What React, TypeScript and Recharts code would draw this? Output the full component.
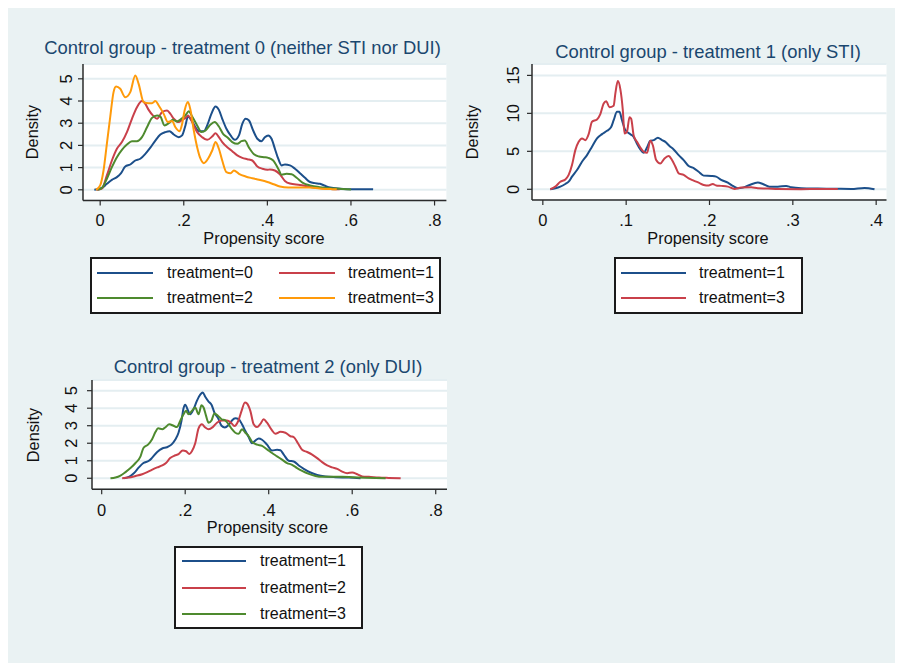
import React from 'react';
import { LineChart, Line, XAxis, YAxis, CartesianGrid } from 'recharts';

type Pt = [number, number];

const FONT = '"Liberation Sans", Arial, Helvetica, sans-serif';
const BG = '#eaf2f3';
const GRID = '#e4eef1';
const AXIS = '#2b2b2b';
const TITLE = '#1a476f';
const BLUE = '#1c4f8a';
const RED = '#c9404a';
const GREEN = '#4e8a2e';
const ORANGE = '#ff9a0a';

// panel 1: control group = treatment 0
const p1Treat0: Pt[] = [
  [-0.014, 0], [0.004, 0.08], [0.016, 0.27], [0.028, 0.45], [0.04, 0.57], [0.05, 0.75], [0.06, 1.05],
  [0.072, 1.14], [0.084, 1.32], [0.096, 1.4], [0.108, 1.62], [0.12, 1.9], [0.132, 2.22], [0.144, 2.49],
  [0.156, 2.6], [0.166, 2.64], [0.176, 2.49], [0.188, 2.37], [0.196, 2.45], [0.204, 2.9], [0.21, 3.3],
  [0.218, 3.15], [0.228, 2.82], [0.236, 2.64], [0.248, 2.64], [0.256, 2.9], [0.266, 3.42], [0.276, 3.75],
  [0.284, 3.6], [0.292, 3.2], [0.302, 2.75], [0.312, 2.45], [0.322, 2.25], [0.332, 2.45], [0.34, 2.97],
  [0.348, 3.2], [0.356, 3.12], [0.366, 2.67], [0.376, 2.3], [0.386, 2.19], [0.394, 2.37], [0.402, 2.45],
  [0.41, 2.3], [0.418, 1.85], [0.426, 1.4], [0.434, 1.1], [0.442, 1.14], [0.454, 1.1], [0.466, 0.95],
  [0.478, 0.75], [0.49, 0.54], [0.502, 0.35], [0.514, 0.3], [0.526, 0.27], [0.538, 0.18], [0.55, 0.1],
  [0.574, 0.05], [0.605, 0.02], [0.653, 0.02],
];
const p1Treat1: Pt[] = [
  [-0.008, 0], [0.004, 0.05], [0.016, 0.65], [0.028, 1.32], [0.04, 1.85], [0.052, 2.15], [0.064, 2.6],
  [0.076, 3.2], [0.088, 3.72], [0.1, 4.0], [0.108, 3.87], [0.116, 3.6], [0.126, 3.35], [0.136, 3.2],
  [0.148, 3.5], [0.16, 3.57], [0.168, 3.42], [0.176, 3.2], [0.188, 3.05], [0.196, 3.15], [0.204, 3.24],
  [0.21, 3.35], [0.22, 3.05], [0.232, 2.6], [0.244, 2.37], [0.256, 2.25], [0.268, 2.4], [0.276, 2.55],
  [0.284, 2.37], [0.292, 2.15], [0.304, 1.92], [0.316, 1.74], [0.328, 1.55], [0.34, 1.44], [0.352, 1.38],
  [0.364, 1.32], [0.376, 1.05], [0.388, 0.95], [0.4, 0.9], [0.406, 0.92], [0.418, 0.87], [0.43, 0.7],
  [0.442, 0.4], [0.454, 0.28], [0.478, 0.22], [0.5, 0.14], [0.525, 0.08], [0.55, 0.04], [0.573, 0.02],
];
const p1Treat2: Pt[] = [
  [-0.006, 0], [0.004, 0.08], [0.016, 0.5], [0.028, 1.02], [0.04, 1.47], [0.052, 1.8], [0.064, 2.04],
  [0.076, 2.19], [0.088, 2.19], [0.1, 2.37], [0.112, 2.82], [0.124, 3.24], [0.136, 3.35], [0.144, 3.3],
  [0.154, 2.9], [0.164, 3.0], [0.174, 3.15], [0.184, 3.08], [0.194, 3.2], [0.204, 3.35], [0.212, 3.54],
  [0.22, 3.3], [0.232, 2.9], [0.242, 2.6], [0.252, 2.67], [0.264, 2.94], [0.274, 3.05], [0.284, 2.85],
  [0.294, 2.52], [0.304, 2.37], [0.316, 2.15], [0.328, 2.07], [0.338, 2.19], [0.346, 2.22], [0.356, 1.9],
  [0.368, 1.6], [0.38, 1.5], [0.392, 1.47], [0.402, 1.44], [0.414, 1.32], [0.426, 0.95], [0.434, 0.68],
  [0.446, 0.72], [0.458, 0.7], [0.47, 0.54], [0.486, 0.3], [0.502, 0.2], [0.525, 0.12], [0.55, 0.07],
  [0.573, 0.05], [0.6, 0.01],
];
const p1Treat3: Pt[] = [
  [-0.01, 0], [0, 0.2], [0.008, 0.87], [0.016, 2.07], [0.024, 3.27], [0.032, 4.4], [0.038, 4.65],
  [0.048, 4.55], [0.06, 4.17], [0.072, 4.4], [0.084, 5.15], [0.092, 4.77], [0.104, 3.95], [0.116, 3.9],
  [0.124, 3.9], [0.132, 4.0], [0.14, 3.8], [0.152, 3.42], [0.162, 3.05], [0.172, 3.1], [0.18, 2.82],
  [0.19, 2.64], [0.196, 2.97], [0.202, 3.57], [0.21, 3.95], [0.216, 3.6], [0.224, 2.67], [0.232, 1.92],
  [0.24, 1.4], [0.248, 1.2], [0.258, 1.4], [0.268, 1.77], [0.276, 2.15], [0.284, 1.85], [0.292, 1.32],
  [0.302, 0.8], [0.312, 0.75], [0.32, 0.87], [0.332, 0.72], [0.348, 0.6], [0.364, 0.52], [0.38, 0.45],
  [0.4, 0.35], [0.415, 0.25], [0.43, 0.15], [0.45, 0.1], [0.5, 0.1], [0.525, 0.06], [0.554, 0.03],
  [0.566, 0.02],
];

// panel 2: control group = treatment 1
const p2Treat1: Pt[] = [
  [0.009, 0], [0.015, 0.13], [0.021, 0.35], [0.027, 0.7], [0.031, 1.0], [0.035, 1.66], [0.041, 2.54],
  [0.047, 3.63], [0.053, 4.5], [0.059, 5.6], [0.065, 6.7], [0.071, 7.26], [0.077, 7.7], [0.082, 8.2],
  [0.085, 9.1], [0.089, 10.2], [0.092, 10.2], [0.095, 9.1], [0.099, 7.8], [0.105, 7.26], [0.109, 6.9],
  [0.113, 6.0], [0.117, 5.25], [0.121, 4.8], [0.125, 5.5], [0.129, 6.4], [0.133, 6.47], [0.138, 6.8],
  [0.143, 6.47], [0.147, 6.25], [0.152, 5.7], [0.157, 5.25], [0.163, 4.5], [0.169, 3.85], [0.175, 3.06],
  [0.181, 2.8], [0.187, 2.3], [0.193, 1.8], [0.202, 1.75], [0.208, 1.67], [0.214, 1.23], [0.222, 0.88],
  [0.228, 0.44], [0.234, 0.13], [0.24, 0.22], [0.248, 0.57], [0.258, 0.88], [0.264, 0.7], [0.272, 0.35],
  [0.282, 0.35], [0.292, 0.44], [0.298, 0.26], [0.31, 0.13], [0.33, 0.09], [0.35, 0.07], [0.37, 0.04],
  [0.386, 0.18], [0.398, 0],
];
const p2Treat3: Pt[] = [
  [0.009, 0], [0.015, 0.35], [0.021, 1.0], [0.027, 1.3], [0.031, 1.9], [0.035, 3.2], [0.039, 5.16],
  [0.043, 6.25], [0.047, 6.7], [0.051, 6.47], [0.055, 7.26], [0.059, 8.9], [0.065, 9.2], [0.069, 9.9],
  [0.073, 11.3], [0.076, 11.6], [0.08, 10.8], [0.085, 11.0], [0.087, 12.6], [0.09, 14.25], [0.093, 13.2],
  [0.096, 10.4], [0.098, 7.35], [0.101, 7.6], [0.104, 9.5], [0.106, 9.3], [0.109, 7.1], [0.113, 6.25],
  [0.117, 5.5], [0.121, 4.94], [0.125, 4.8], [0.129, 6.4], [0.132, 5.8], [0.136, 3.85], [0.141, 3.4],
  [0.146, 4.07], [0.151, 4.37], [0.155, 3.85], [0.159, 3.0], [0.163, 2.1], [0.169, 1.9], [0.175, 1.44],
  [0.181, 1.14], [0.187, 0.87], [0.193, 0.57], [0.199, 0.5], [0.204, 0.7], [0.208, 0.5], [0.214, 0.45],
  [0.222, 0.35], [0.23, 0.05], [0.238, 0.22], [0.25, 0.26], [0.258, 0.13], [0.27, 0.1], [0.282, 0.04],
  [0.31, 0.02], [0.33, 0.04], [0.354, 0.05],
];

// panel 3: control group = treatment 2
const p3Treat1: Pt[] = [
  [0.053, 0], [0.065, 0.08], [0.077, 0.29], [0.089, 0.62], [0.1, 0.87], [0.113, 1.0], [0.12, 1.15],
  [0.133, 1.5], [0.145, 1.7], [0.156, 1.77], [0.167, 1.92], [0.176, 2.2], [0.184, 2.6], [0.191, 3.27],
  [0.196, 4.0], [0.2, 4.2], [0.207, 3.85], [0.212, 3.65], [0.22, 3.94], [0.228, 4.42], [0.236, 4.77],
  [0.242, 4.9], [0.248, 4.65], [0.256, 4.38], [0.263, 4.2], [0.27, 3.75], [0.279, 3.42], [0.287, 3.0],
  [0.295, 2.9], [0.304, 3.04], [0.312, 3.3], [0.32, 3.42], [0.328, 3.37], [0.336, 3.08], [0.344, 2.7],
  [0.352, 2.35], [0.36, 2.0], [0.368, 2.15], [0.376, 2.27], [0.384, 2.2], [0.396, 1.92], [0.408, 1.58],
  [0.42, 1.63], [0.428, 1.6], [0.436, 1.35], [0.448, 1.0], [0.46, 0.96], [0.472, 0.73], [0.484, 0.54],
  [0.5, 0.33], [0.516, 0.19], [0.536, 0.1], [0.56, 0.06], [0.592, 0.04], [0.62, 0],
];
const p3Treat2: Pt[] = [
  [0.049, 0], [0.065, 0.04], [0.081, 0.13], [0.097, 0.23], [0.109, 0.35], [0.12, 0.48], [0.133, 0.62],
  [0.145, 0.73], [0.154, 0.87], [0.164, 1.15], [0.175, 1.3], [0.184, 1.38], [0.194, 1.58], [0.202, 1.54],
  [0.21, 1.38], [0.216, 1.54], [0.224, 2.0], [0.232, 2.85], [0.24, 3.08], [0.248, 2.9], [0.256, 2.8],
  [0.266, 2.92], [0.276, 3.17], [0.288, 3.3], [0.3, 3.3], [0.31, 3.17], [0.318, 2.98], [0.327, 3.27],
  [0.335, 3.85], [0.343, 4.33], [0.348, 4.27], [0.356, 3.85], [0.364, 3.08], [0.372, 2.92], [0.38, 3.1],
  [0.388, 3.37], [0.396, 3.17], [0.408, 2.73], [0.416, 2.54], [0.428, 2.65], [0.44, 2.6], [0.452, 2.4],
  [0.46, 2.35], [0.47, 2.0], [0.48, 1.63], [0.492, 1.5], [0.504, 1.35], [0.516, 1.15], [0.528, 0.92],
  [0.54, 0.73], [0.552, 0.62], [0.564, 0.54], [0.576, 0.38], [0.588, 0.29], [0.6, 0.33], [0.612, 0.23],
  [0.624, 0.1], [0.64, 0.08], [0.664, 0.04], [0.688, 0.02], [0.716, 0],
];
const p3Treat3: Pt[] = [
  [0.021, 0], [0.033, 0.04], [0.045, 0.15], [0.057, 0.35], [0.069, 0.58], [0.081, 0.87], [0.093, 1.25],
  [0.1, 1.73], [0.111, 1.92], [0.12, 2.2], [0.129, 2.65], [0.135, 2.85], [0.145, 2.8], [0.152, 2.9],
  [0.162, 3.08], [0.172, 3.0], [0.18, 2.92], [0.188, 3.27], [0.196, 3.65], [0.202, 3.85], [0.208, 3.65],
  [0.216, 3.85], [0.224, 4.04], [0.232, 3.65], [0.239, 4.17], [0.244, 4.04], [0.25, 3.56], [0.256, 3.17],
  [0.263, 3.3], [0.27, 3.7], [0.279, 3.56], [0.287, 3.37], [0.296, 3.3], [0.304, 3.08], [0.312, 2.8],
  [0.32, 2.6], [0.328, 2.54], [0.336, 2.8], [0.344, 2.6], [0.352, 2.4], [0.36, 2.08], [0.372, 1.92],
  [0.384, 1.85], [0.396, 1.65], [0.408, 1.44], [0.42, 1.25], [0.432, 1.06], [0.444, 0.87], [0.456, 0.77],
  [0.468, 0.58], [0.48, 0.42], [0.496, 0.25], [0.512, 0.13], [0.528, 0.08], [0.552, 0.08], [0.576, 0.08],
  [0.6, 0.06], [0.632, 0.03], [0.68, 0],
];

const ticks08 = [0, 0.2, 0.4, 0.6, 0.8];
const ticks04 = [0, 0.1, 0.2, 0.3, 0.4];
const ticks05 = [0, 1, 2, 3, 4, 5];
const ticks15 = [0, 5, 10, 15];

// page coords -> container coords (body margin)
const OFF = 8;
const TICK_FS = 16.5;

interface Series { name: string; color: string; points: Pt[]; lx0: number; lx1: number; tx: number; ly: number }

interface PanelCfg {
  title: string;
  titleAt: [number, number];
  plot: [number, number, number, number];
  xDomain: [number, number];
  yDomain: [number, number];
  xTicks: number[];
  yTicks: number[];
  yLabOff: number;
  xLabOff: number;
  xTitleAt: [number, number];
  yTitleAt: [number, number];
  legendBox: [number, number, number, number];
  series: Series[];
}

const fmtX = (v: number) => (v === 0 ? '0' : String(v).replace(/^0/, ''));

const panels: PanelCfg[] = [
  {
    title: 'Control group - treatment 0 (neither STI nor DUI)',
    titleAt: [242.5, 48],
    plot: [83.3, 63.5, 446.7, 200],
    xDomain: [-0.0411, 0.8283],
    yDomain: [-0.482, 5.667],
    xTicks: ticks08,
    yTicks: ticks05,
    yLabOff: 17,
    xLabOff: 20,
    xTitleAt: [264, 238],
    yTitleAt: [32, 132],
    legendBox: [90, 257, 441, 314],
    series: [
      { name: 'treatment=0', color: BLUE, points: p1Treat0, lx0: 97, lx1: 153, tx: 167, ly: 273 },
      { name: 'treatment=1', color: RED, points: p1Treat1, lx0: 279, lx1: 335, tx: 348, ly: 273 },
      { name: 'treatment=2', color: GREEN, points: p1Treat2, lx0: 97, lx1: 153, tx: 167, ly: 298 },
      { name: 'treatment=3', color: ORANGE, points: p1Treat3, lx0: 279, lx1: 335, tx: 348, ly: 298 },
    ],
  },
  {
    title: 'Control group - treatment 1 (only STI)',
    titleAt: [708, 52],
    plot: [531.5, 64, 886, 200],
    xDomain: [-0.013, 0.4124],
    yDomain: [-1.41, 16.5],
    xTicks: ticks04,
    yTicks: ticks15,
    yLabOff: 19,
    xLabOff: 20,
    xTitleAt: [708, 238],
    yTitleAt: [472, 132],
    legendBox: [614, 257, 803, 314],
    series: [
      { name: 'treatment=1', color: BLUE, points: p2Treat1, lx0: 621, lx1: 686, tx: 699, ly: 273 },
      { name: 'treatment=3', color: RED, points: p2Treat3, lx0: 621, lx1: 686, tx: 699, ly: 298 },
    ],
  },
  {
    title: 'Control group - treatment 2 (only DUI)',
    titleAt: [268, 367],
    plot: [92, 380, 447, 489.3],
    xDomain: [-0.0232, 0.827],
    yDomain: [-0.63, 5.61],
    xTicks: ticks08,
    yTicks: ticks05,
    yLabOff: 20.5,
    xLabOff: 21,
    xTitleAt: [267.5, 527],
    yTitleAt: [33, 435],
    legendBox: [174, 546, 363, 629],
    series: [
      { name: 'treatment=1', color: BLUE, points: p3Treat1, lx0: 182, lx1: 246, tx: 260, ly: 561 },
      { name: 'treatment=2', color: RED, points: p3Treat2, lx0: 182, lx1: 246, tx: 260, ly: 588 },
      { name: 'treatment=3', color: GREEN, points: p3Treat3, lx0: 182, lx1: 246, tx: 260, ly: 614 },
    ],
  },
];

const centered = (x: number, y: number, extra: React.CSSProperties = {}): React.CSSProperties => ({
  position: 'absolute',
  left: x - OFF,
  top: y - OFF,
  transform: 'translate(-50%, -50%)',
  whiteSpace: 'nowrap',
  lineHeight: 1,
  fontFamily: FONT,
  ...extra,
});

function Panel({ cfg }: { cfg: PanelCfg }) {
  const [px0, py0, px1, py1] = cfg.plot;
  const yw = 50;
  const mt = 10;
  const mr = 10;
  const xh = 40;
  const width = px1 - px0 + yw + mr;
  const height = py1 - py0 + mt + xh;
  const half = TICK_FS * 0.358;

  const YTick = (props: any) => {
    const bx = props.x + 7 - cfg.yLabOff + half;
    return (
      <text x={bx} y={props.y} transform={`rotate(-90, ${bx}, ${props.y})`} textAnchor="middle"
        fontSize={TICK_FS} fill="#111" fontFamily={FONT}>
        {props.payload.value}
      </text>
    );
  };
  const XTick = (props: any) => (
    <text x={props.x} y={props.y - 7 + cfg.xLabOff + half} textAnchor="middle" fontSize={TICK_FS} fill="#111" fontFamily={FONT}>
      {fmtX(props.payload.value)}
    </text>
  );

  const [bx0, by0, bx1, by1] = cfg.legendBox;

  return (
    <>
      <div style={centered(cfg.titleAt[0], cfg.titleAt[1], { fontSize: 18.4, color: TITLE })}>{cfg.title}</div>
      <div style={{ position: 'absolute', left: px0 - yw - OFF, top: py0 - mt - OFF }}>
        <LineChart width={width} height={height} margin={{ top: mt, right: mr, bottom: 0, left: 0 }}>
          <CartesianGrid vertical={false} stroke={GRID} strokeWidth={2} fill="#ffffff" />
          <XAxis type="number" dataKey="x" domain={cfg.xDomain} ticks={cfg.xTicks} allowDataOverflow interval={0}
            height={xh} tickSize={5} tickMargin={2} tick={XTick}
            axisLine={{ stroke: AXIS, strokeWidth: 1.5 }} tickLine={{ stroke: AXIS, strokeWidth: 1.2 }} />
          <YAxis type="number" dataKey="y" domain={cfg.yDomain} ticks={cfg.yTicks} allowDataOverflow interval={0}
            width={yw} tickSize={5} tickMargin={2} tick={YTick}
            axisLine={{ stroke: AXIS, strokeWidth: 1.5 }} tickLine={{ stroke: AXIS, strokeWidth: 1.2 }} />
          {cfg.series.map((s) => (
            <Line key={s.name} data={s.points.map(([x, y]) => ({ x, y }))} dataKey="y" type="monotone"
              stroke={s.color} strokeWidth={2} dot={false} activeDot={false} isAnimationActive={false} />
          ))}
        </LineChart>
      </div>
      <div style={centered(cfg.xTitleAt[0], cfg.xTitleAt[1], { fontSize: 16.3, color: '#111' })}>Propensity score</div>
      <div style={centered(cfg.yTitleAt[0], cfg.yTitleAt[1], { fontSize: 16.3, color: '#111', transform: 'translate(-50%, -50%) rotate(-90deg)' })}>
        Density
      </div>
      <div style={{
        position: 'absolute', left: bx0 - OFF, top: by0 - OFF, width: bx1 - bx0, height: by1 - by0,
        boxSizing: 'border-box', border: '2px solid #1a1a1a', background: '#ffffff',
      }} />
      {cfg.series.map((s) => (
        <React.Fragment key={s.name + 'lg'}>
          <div style={{ position: 'absolute', left: s.lx0 - OFF, top: s.ly - 1 - OFF, width: s.lx1 - s.lx0, height: 2, background: s.color }} />
          <div style={{
            position: 'absolute', left: s.tx - OFF, top: s.ly - OFF, transform: 'translateY(-50%)',
            fontFamily: FONT, fontSize: 16, lineHeight: 1, color: '#111', whiteSpace: 'nowrap',
          }}>{s.name}</div>
        </React.Fragment>
      ))}
    </>
  );
}

export default function App() {
  return (
    <div style={{ position: 'relative', width: 895, height: 655, background: BG, overflow: 'hidden' }}>
      {panels.map((p) => (
        <Panel key={p.title} cfg={p} />
      ))}
    </div>
  );
}
